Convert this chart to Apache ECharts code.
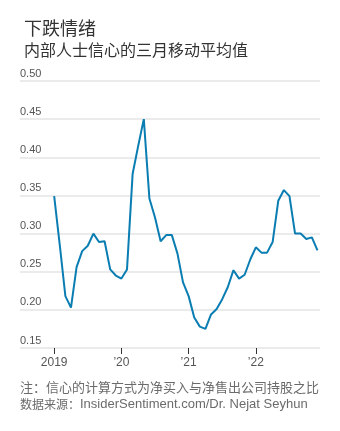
<!DOCTYPE html>
<html><head><meta charset="utf-8">
<script src="https://cdn.jsdelivr.net/npm/echarts@6/dist/echarts.min.js"></script>
<style>html,body{margin:0;padding:0;background:#fff}#c{width:340px;height:431px}</style>
</head><body><div id="c"></div>
<script>
var startYear = 2019;
var values = [0.349,0.285,0.218,0.203,0.256,0.277,0.284,0.300,0.289,0.290,0.253,0.245,
              0.241,0.253,0.378,0.415,0.450,0.346,0.321,0.290,0.298,0.298,0.274,0.236,
              0.218,0.190,0.178,0.175,0.194,0.201,0.214,0.230,0.252,0.241,0.246,0.266,
              0.282,0.275,0.275,0.289,0.343,0.357,0.349,0.300,0.300,0.293,0.295,0.278];
var tickMonths = [0,12,24,36];
var tickLabels = ['2019','\u201920','\u201921','\u201922'];
var yTicks = [0.15,0.20,0.25,0.30,0.35,0.40,0.45,0.50];

var font = '"Liberation Sans", Arial, "Noto Sans CJK SC", sans-serif';
var cjk = '"Noto Sans CJK SC", "Liberation Sans", sans-serif';
var chart = echarts.init(document.getElementById('c'), null, {renderer:'canvas'});
chart.setOption({
  animation:false,
  backgroundColor:'#fff',
  title:[
    {text:'下跌情绪', left:19, top:14, textStyle:{fontFamily:cjk, fontSize:18, fontWeight:'normal', color:'#333'}},
    {text:'内部人士信心的三月移动平均值', left:19, top:37, textStyle:{fontFamily:cjk, fontSize:16, fontWeight:'normal', color:'#333'}}
  ],
  graphic:[
    {type:'text', left:20, top:381, style:{text:'注：信心的计算方式为净买入与净售出公司持股之比', font:'13px '+cjk, fill:'#6b6b6b'}},
    {type:'text', left:20, top:398, style:{
      text:'{a|数据来源：}{b|InsiderSentiment.com/Dr. Nejat Seyhun}',
      rich:{
        a:{fontFamily:cjk, fontSize:12, fill:'#6b6b6b', color:'#6b6b6b'},
        b:{fontFamily:font, fontSize:13, fill:'#6b6b6b', color:'#6b6b6b'}
      }, fill:'#6b6b6b'}}
  ],
  grid:{left:20, right:20, top:81, bottom:83, containLabel:false},
  xAxis:{
    type:'value', min:-6.1, max:47.45,
    axisLine:{show:false},
    splitLine:{show:false},
    axisTick:{show:true, customValues:tickMonths, length:6, lineStyle:{color:'#333', width:1}},
    axisLabel:{customValues:tickMonths, margin:9, fontFamily:font, fontSize:12, color:'#555',
      formatter:function(v){ var i = tickMonths.indexOf(Math.round(v)); return i>=0 ? tickLabels[i] : ''; }}
  },
  yAxis:{
    type:'value', min:yTicks[0], max:yTicks[yTicks.length-1], interval:0.05,
    axisLine:{show:false}, axisTick:{show:false},
    splitLine:{show:true, lineStyle:{color:'#ebebeb', width:2}},
    axisLabel:{inside:true, margin:0, verticalAlign:'bottom', padding:[0,0,2,0], fontFamily:font, fontSize:11, color:'#555',
      formatter:function(v){ return v.toFixed(2); }}
  },
  series:[{
    type:'line', symbol:'none', smooth:false,
    data: values.map(function(v,i){ return [i, v]; }),
    lineStyle:{color:'#0a7db2', width:2}
  }]
});
</script></body></html>
